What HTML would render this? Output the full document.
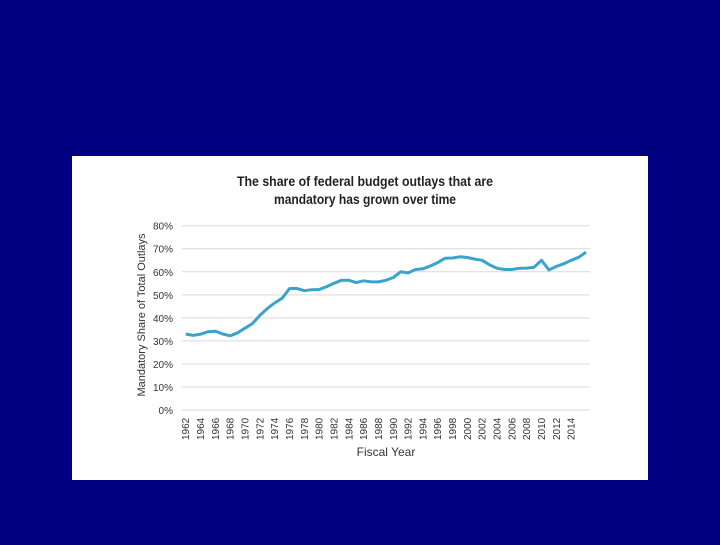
<!DOCTYPE html>
<html><head><meta charset="utf-8"><style>
body{margin:0;background:#000080;width:720px;height:540px;overflow:hidden;font-family:"Liberation Sans",sans-serif}
</style></head><body>
<svg width="720" height="540">
<rect x="0" y="0" width="720" height="540" fill="#000080"/>
<rect x="72" y="156" width="576" height="324" fill="#fff"/>
<text x="365" y="186" text-anchor="middle" font-size="14" font-weight="bold" fill="#222" textLength="256" lengthAdjust="spacingAndGlyphs">The share of federal budget outlays that are</text>
<text x="365" y="204" text-anchor="middle" font-size="14" font-weight="bold" fill="#222" textLength="182" lengthAdjust="spacingAndGlyphs">mandatory has grown over time</text>
<g id="grid"></g><g id="yt"></g><g id="xt"></g>
<path id="line" fill="none" stroke="#3aa3cc" stroke-width="3" stroke-linejoin="round"/>
<text transform="translate(145,315) rotate(-90)" text-anchor="middle" font-size="11" fill="#333">Mandatory Share of Total Outlays</text>
<text x="386" y="456" text-anchor="middle" font-size="12" fill="#333">Fiscal Year</text>
</svg>
<script>
const years=[];for(let y=1962;y<=2016;y++)years.push(y);
const values=[33,32.4,32.9,34,34.2,33,32.2,33.5,35.5,37.5,41,44,46.5,48.5,52.7,52.8,51.8,52.2,52.3,53.5,55,56.3,56.3,55.3,56.1,55.6,55.6,56.3,57.5,60,59.5,61,61.3,62.5,64,65.9,66,66.5,66.2,65.5,65,63,61.5,61,61,61.5,61.6,62,65,60.8,62.3,63.5,65,66.3,68.5];
const yTicks=[0,10,20,30,40,50,60,70,80];
const NS="http://www.w3.org/2000/svg";
const X=y=>185.7+(y-1962)*(586-185.7)/54;
const Y=v=>410-v*(410-225.7)/80;
function mk(t,a,p){const e=document.createElementNS(NS,t);for(const k in a)e.setAttribute(k,a[k]);p.appendChild(e);return e;}
const g=document.getElementById('grid'),yt=document.getElementById('yt'),xt=document.getElementById('xt');
yTicks.forEach(v=>{
 const l=mk('line',{x1:182,x2:590,y1:Y(v),y2:Y(v),stroke:'#d9d9d9','stroke-width':1},g);
 
 
 const t=mk('text',{x:173,y:Y(v)+4,'text-anchor':'end','font-size':10,fill:'#333'},yt);
 t.textContent=v+'%';
 
 
});
years.forEach(y=>{if((y-1962)%2||y>2014)return;
 const t=mk('text',{transform:`translate(${X(y)+3.5},440) rotate(-90)`,'font-size':10,fill:'#333'},xt);
 t.textContent=y;
 
 
});
document.getElementById('line').setAttribute('d',values.map((v,i)=>(i?'L':'M')+X(years[i]).toFixed(1)+','+Y(v).toFixed(1)).join(''));
</script>
</body></html>
